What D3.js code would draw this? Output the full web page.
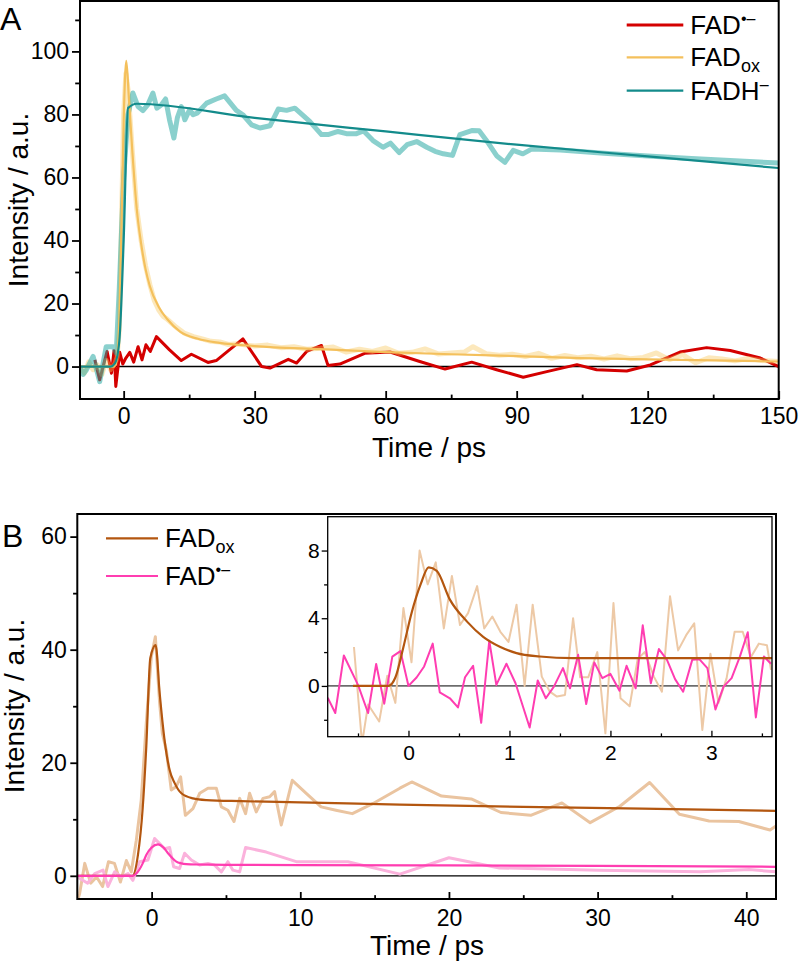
<!DOCTYPE html>
<html><head><meta charset="utf-8">
<script src="https://cdn.jsdelivr.net/npm/d3@7"></script>
<style>body{margin:0;background:#fff}svg{display:block;font-family:Arial,"Liberation Sans",sans-serif}</style>
</head><body><svg id="c" width="799" height="980"></svg>
<script>
// ---------- Panel A data [time ps, intensity] ----------
const aRadical = [[-6.6,2.1],[-5.5,-4.2],[-3.8,4.8],[-2.8,-2.1],[-2.2,5],[-1.8,-6.3],[-0.9,4.5],[-0.2,0.8],[0.5,2.7],[1.4,4.5],[2.3,1.4],[3.3,6.3],[4.2,2.1],[5.1,6.9],[6.1,4.8],[7.5,9.5],[10.5,5.3],[13.2,1.9],[15.5,3.9],[19.3,1.3],[21.2,1.9],[27.3,8.8],[31.6,0],[33.5,-0.5],[37.7,2.3],[39.6,1.1],[41.9,4.8],[45.3,6.7],[46.8,0.3],[49.5,0.8],[55.2,4.2],[61,4.6],[67.8,1.6],[73.6,-0.8],[79.7,1.4],[85.4,-1],[91.5,-3.4],[96.9,-1.6],[103.8,0.6],[108.3,-1],[115.2,-1.4],[120.6,0.5],[127.4,4.6],[133.5,6],[138.9,5.1],[145.8,2.7],[150,0]];
const aOxRaw = [[-10,0],[-9,-2],[-8,1.5],[-7,-1],[-6,0.5],[-5,-2.5],[-4,2],[-3,-1],[-2,1],[-1.5,3],[-1,12],[-0.5,45],[0,80],[0.5,93],[1,88],[1.5,78],[2,68],[3,50],[4,40],[5,32],[6,26],[7,21],[8,18],[9,16],[10,15],[12,12.5],[14,10.5],[16,9.5],[18,8.8],[20,8],[22,7.8],[24,7],[26,7.2],[28,6.8],[30,6.5],[33,6.8],[36,6],[39,6.3],[42,5.5],[45,5.8],[48,6.2],[51,4.6],[54,5.5],[57,4.8],[60,5.9],[63,4.2],[66,4.5],[69,5.6],[72,4.0],[75,4.3],[78,4.6],[80,6.3],[83,4.1],[86,3.6],[89,3.9],[92,3.2],[95,4.2],[98,2.6],[101,3.5],[104,2.8],[107,3.3],[110,2.4],[113,3.4],[116,2.5],[119,2.9],[122,4.3],[125,2.2],[128,3.8],[131,1.2],[134,2.8],[137,2.4],[140,1.8],[143,2.6],[146,1.9],[150,1.6]];
const aOxFit = [[-10,0],[-2.2,0],[-1.5,3],[-1,15],[-0.5,45],[0,78],[0.6,97],[1.2,85],[2,68],[3,50],[4,39],[5,31],[6,25.5],[8,19],[10,15],[13,11],[17,8.8],[22,7.5],[30,6.5],[45,5.5],[60,4.6],[75,3.9],[90,3.3],[105,2.7],[120,2.3],[150,1.6]];
const aHqRaw = [[-10,0],[-9.3,-2.5],[-8.5,-1],[-7,3.2],[-5.5,-4.8],[-4,6.3],[-2.4,6.3],[-1.7,4.3],[-1,25],[0,60],[1,80],[2.1,86.8],[3.3,82.5],[4.4,81.2],[5.5,83],[6.7,86.8],[7.6,82],[8.6,83],[9.6,84.9],[10.5,78.3],[11.5,72.5],[12.3,79],[13.2,82.5],[14,78.3],[15.1,81.5],[15.9,79.9],[16.8,80.4],[19,83.6],[21.2,84.9],[23.1,85.9],[25.8,81.3],[27.3,79.9],[29.3,76.7],[31.2,75.7],[33.5,76.4],[35.4,81.7],[37.3,81.3],[39.2,82],[42.6,77.8],[45.3,73.6],[46.8,73.6],[49.1,74.6],[51,73.9],[53.3,73.9],[54.9,74.8],[57.1,71.7],[59.4,69.6],[61.1,70.9],[63.1,67.9],[64.9,70.4],[67.1,71.4],[69.4,69.6],[71.3,68.3],[73.2,67.5],[75.3,67],[77,73.6],[79.7,74.9],[81.4,74.8],[83.5,70.9],[85.4,66.9],[87.3,64.8],[89.2,68.6],[91.4,67.5],[93.4,69],[100,68.7],[110,67.7],[120,66.8],[130,66],[140,65.3],[150,64.6]];
const aHqFit = [[-10,0],[-3,0],[-2,1],[-1,8],[0,40],[1,82],[3,83.4],[30,78.9],[60,74.6],[90,70.4],[120,66.7],[150,63]];
const aXTicks = [0,30,60,90,120,150];
const aYTicks = [0,20,40,60,80,100];

// ---------- Panel B data ----------
const bOxRaw = [[-5,-4.6],[-4.84,-3.1],[-4.5,2.2],[-4.1,-1.3],[-3.7,-0.2],[-3.3,-1.9],[-2.9,2.5],[-2.5,2.2],[-2.1,-1.1],[-1.7,2.7],[-1.37,0.7],[-1.03,6.3],[-0.7,13.4],[-0.36,27],[-0.02,38.8],[0.25,42.3],[0.54,30.5],[0.72,25.2],[0.99,22.2],[1.32,15.2],[1.66,15.8],[1.95,17.5],[2.27,10.7],[2.78,11.9],[3.23,14.6],[3.79,15.5],[4.35,15.5],[4.69,12.2],[5.13,11.6],[5.54,9.6],[5.92,13.7],[6.32,11],[6.59,14.6],[7.04,11.3],[7.49,13.7],[7.94,14],[8.27,14.9],[8.72,9],[9.46,16.9],[10.4,14.6],[11.4,12.2],[12.4,11.6],[13.5,11],[14.9,12.8],[16.7,15.5],[17.5,16.6],[19.5,14.1],[21.5,13.6],[23.5,11.2],[25.5,10.7],[27.6,12.9],[29.5,9.4],[31.5,12.3],[33.5,16.5],[35.5,10.9],[37.5,9.7],[39.5,9.6],[41.6,8.1],[42,8.8]];
const bOxFit = [[-5,0],[-1.3,0],[-0.92,3.7],[-0.6,12],[-0.36,22.8],[-0.09,38.5],[0.27,40.8],[0.54,32.3],[0.87,24],[1.21,18.7],[1.55,16.4],[2.0,14.6],[2.78,13.7],[3.68,13.4],[6,13.2],[10,13],[16.7,12.6],[25,12.2],[33,11.9],[42,11.5]];
const bRadRaw = [[-5,-0.2],[-4.3,-1.3],[-3.83,0.4],[-3.27,1.0],[-2.94,-1.9],[-2.49,0.7],[-2.04,-0.2],[-1.59,0.4],[-1.26,-0.8],[-0.81,2.5],[-0.25,2.8],[0.2,6.6],[0.54,5.7],[0.87,4.8],[1.21,5.0],[1.48,1.6],[1.88,1.3],[2.22,4.0],[2.67,2.8],[3.23,1.9],[3.79,2.2],[4.24,1.9],[4.69,0.7],[5.13,2.5],[5.47,1.0],[5.92,0.7],[6.32,5.0],[7.71,4.2],[9.73,2.5],[13.2,2.5],[16.7,0.3],[20.0,3.2],[23.4,1.4],[30.1,1.0],[36.9,0.7],[40.2,1.1],[42,0.7]];
const bRadFit = [[-5,0],[-1.3,0],[-1.03,0.4],[-0.6,2.2],[-0.36,3.7],[0,5.0],[0.43,5.55],[0.8,5.0],[1.1,4.0],[1.4,3.1],[1.66,2.5],[2,2.2],[2.33,2.07],[3,2.0],[5,1.95],[10,1.9],[20,1.85],[30,1.75],[42,1.6]];
const bXTicks = [0,10,20,30,40];
const bYTicks = [0,20,40,60];

// ---------- Inset data ----------
const iOxRaw = [[-0.54,2.3],[-0.46,-3.4],[-0.4,-1.1],[-0.29,-2.1],[-0.21,0.6],[-0.13,-1.0],[-0.05,4.6],[0.03,1.4],[0.11,8.0],[0.19,6.0],[0.27,7.3],[0.35,3.4],[0.43,6.5],[0.51,3.6],[0.59,4.3],[0.68,5.9],[0.75,3.4],[0.83,4.1],[0.91,3.2],[0.99,2.6],[1.07,4.8],[1.15,0],[1.23,4.8],[1.32,0.55],[1.4,-0.34],[1.47,-0.63],[1.55,-0.53],[1.63,4.0],[1.7,0.51],[1.78,0.51],[1.87,2.0],[1.95,-2.8],[2.03,4.9],[2.1,-0.73],[2.19,-1.2],[2.27,1.6],[2.34,2.0],[2.43,0.55],[2.51,-0.34],[2.59,5.3],[2.67,2.1],[2.75,3.0],[2.83,3.7],[2.91,-2.6],[2.99,1.9],[3.07,-1.0],[3.15,0.45],[3.23,3.2],[3.31,3.2],[3.39,1.7],[3.47,2.5],[3.55,2.4],[3.59,0.95]];
const iRad = [[-0.8,-0.7],[-0.725,-1.6],[-0.64,1.8],[-0.5,0.06],[-0.4,-1.6],[-0.32,1.3],[-0.24,-1.05],[-0.16,1.73],[-0.08,2.06],[0,0],[0.08,0.5],[0.155,1.15],[0.24,2.5],[0.31,-0.38],[0.41,-0.73],[0.49,-1.27],[0.56,0.51],[0.64,1.19],[0.72,-2.18],[0.8,2.67],[0.87,0.06],[0.97,1.31],[1.06,0.16],[1.2,-2.46],[1.28,0.32],[1.36,-0.73],[1.44,-0.04],[1.53,1.05],[1.6,-0.14],[1.68,1.84],[1.76,-1.07],[1.84,1.39],[1.92,0.46],[2.0,0.71],[2.09,-0.28],[2.16,1.19],[2.25,-0.14],[2.32,3.58],[2.4,0.16],[2.48,2.18],[2.56,1.54],[2.64,0.4],[2.72,-0.34],[2.81,1.54],[2.88,1.58],[2.96,1.05],[3.04,-1.39],[3.12,-0.04],[3.2,0.46],[3.28,1.7],[3.36,3.17],[3.44,-1.86],[3.52,1.74],[3.59,1.31]];
const iOxFit = [[-0.55,0],[-0.2,0],[-0.13,0.5],[-0.05,2.3],[0.03,4.3],[0.12,6.0],[0.2,7.0],[0.28,6.8],[0.41,5.1],[0.58,3.8],[0.74,2.9],[0.91,2.3],[1.07,1.94],[1.3,1.74],[1.63,1.64],[3.6,1.64]];
const iXTicks = [0,1,2,3];
const iYTicks = [0,4,8];

const svg = d3.select('#c');
const FONT = 'Arial,"Liberation Sans",sans-serif';

function panel(o){
  const x = d3.scaleLinear().domain(o.xd).range([o.l,o.r]);
  const y = d3.scaleLinear().domain(o.yd).range([o.b,o.t]);
  const g = svg.append('g');
  if(o.bg) g.append('rect').attr('x',o.l).attr('y',o.t).attr('width',o.r-o.l).attr('height',o.b-o.t).attr('fill','#fff');
  const cid = 'clip'+o.id;
  svg.append('defs').append('clipPath').attr('id',cid).append('rect')
    .attr('x',o.l).attr('y',o.t).attr('width',o.r-o.l).attr('height',o.b-o.t);
  const pg = g.append('g').attr('clip-path','url(#'+cid+')');
  pg.append('line').attr('x1',o.l).attr('x2',o.r).attr('y1',y(0)).attr('y2',y(0)).attr('stroke','#000').attr('stroke-width',o.zw);
  const line = d3.line().x(d=>x(d[0])).y(d=>y(d[1]));
  o.series.forEach(s=>{
    pg.append('path').attr('d',line.curve(s.curve||d3.curveLinear)(s.data)).attr('fill','none')
      .attr('stroke',s.color).attr('stroke-width',s.w).attr('stroke-opacity',s.op||1)
      .attr('stroke-linejoin','round');
  });
  // axes
  const fx = o.fmt || (d=>d);
  const ax = g.append('g').attr('transform','translate(0,'+o.b+')')
    .call(d3.axisBottom(x).tickValues(o.xt).tickSize(-o.tl).tickPadding(o.xpad).tickFormat(fx));
  const axm = g.append('g').attr('transform','translate(0,'+o.b+')')
    .call(d3.axisBottom(x).tickValues(o.xm).tickSize(-o.tl*0.55).tickFormat(''));
  const ay = g.append('g').attr('transform','translate('+o.l+',0)')
    .call(d3.axisLeft(y).tickValues(o.yt).tickSize(o.tl).tickPadding(o.ypad));
  const aym = g.append('g').attr('transform','translate('+o.l+',0)')
    .call(d3.axisLeft(y).tickValues(o.ym).tickSize(o.tl*0.6).tickFormat(''));
  [ax,axm,ay,aym].forEach(a=>{
    a.select('.domain').remove();
    a.selectAll('line').attr('stroke','#000').attr('stroke-width',o.tw);
    a.selectAll('text').attr('font-size',o.fs).attr('font-family',FONT).attr('fill','#000');
  });
  g.append('rect').attr('x',o.l).attr('y',o.t).attr('width',o.r-o.l).attr('height',o.b-o.t)
    .attr('fill','none').attr('stroke','#000').attr('stroke-width',o.fw);
  return {x,y,g};
}

// Panel A
panel({id:'A',l:80,r:778.7,t:1,b:399,xd:[-10,150],yd:[-10.3,116],
  xt:aXTicks,xm:[15,45,75,105,135],yt:aYTicks,ym:[10,30,50,70,90,110],
  tl:8,xpad:9,ypad:3,fs:23,tw:1.8,fw:2,zw:1.6,
  series:[
    {data:aRadical,color:'#D40000',w:3},
    {data:aOxRaw,color:'#F7C658',w:5,op:0.4},
    {data:aHqRaw,color:'#1FA5A0',w:5,op:0.52},
    {data:aOxFit,color:'#F4C05C',w:2.2,curve:d3.curveMonotoneX},
    {data:aHqFit,color:'#138B8B',w:2.2,curve:d3.curveMonotoneX}
  ]});

// Panel B
panel({id:'B',l:77.3,r:776,t:514,b:899,xd:[-5,42],yd:[-4.1,64],
  xt:bXTicks,xm:[5,15,25,35],yt:bYTicks,ym:[10,30,50],
  tl:7,xpad:11,ypad:3.5,fs:23,tw:1.8,fw:2,zw:1.3,
  series:[
    {data:bOxRaw,color:'#EAC4A0',w:3},
    {data:bRadRaw,color:'#FBB2DC',w:3},
    {data:bOxFit,color:'#B3560F',w:2.2,curve:d3.curveMonotoneX},
    {data:bRadFit,color:'#FF3DB1',w:2.2,curve:d3.curveMonotoneX}
  ]});

// Inset
panel({id:'I',l:327.7,r:772,t:516.7,b:736.7,xd:[-0.8,3.6],yd:[-3,10],bg:true,
  xt:iXTicks,xm:[-0.5,0.5,1.5,2.5,3.5],yt:iYTicks,ym:[-2,2,6],
  tl:6,xpad:8,ypad:2,fs:21,tw:1.3,fw:1.3,zw:1,
  series:[
    {data:iOxRaw,color:'#EDC9A6',w:2},
    {data:iRad,color:'#FF3DB1',w:2},
    {data:iOxFit,color:'#B3560F',w:2.2,curve:d3.curveMonotoneX}
  ]});

// Titles
function txt(x,y,s,fs,rot,anchor){
  const t = svg.append('text').attr('x',x).attr('y',y).attr('font-size',fs).attr('font-family',FONT)
    .attr('text-anchor',anchor||'middle').attr('fill','#000').text(s);
  if(rot) t.attr('transform','rotate(-90,'+x+','+y+')');
  return t;
}
txt(429,457,'Time / ps',28);
txt(427,955,'Time / ps',28);
txt(28,200,'Intensity / a.u.',28,true);
txt(24,706,'Intensity / a.u.',28,true);
txt(0,30,'A',32,false,'start');
txt(2,547,'B',32,false,'start');

// Legends
function legend(x1,x2,y,color,w,base,sup,sub){
  svg.append('line').attr('x1',x1).attr('x2',x2).attr('y1',y).attr('y2',y).attr('stroke',color).attr('stroke-width',w);
  const t = svg.append('text').attr('x',x2+7).attr('y',y+9).attr('font-size',26).attr('font-family',FONT).attr('fill','#000');
  t.append('tspan').text(base);
  if(sup) t.append('tspan').attr('font-size',16).attr('dy',-10).text(sup);
  if(sub) t.append('tspan').attr('font-size',18).attr('dy',6).text(sub);
}
legend(626.7,683.3,25,'#D40000',3,'FAD','\u2022\u2013');
legend(626.7,683.3,57.3,'#F4C05C',2.2,'FAD',null,'ox');
legend(626.7,683.3,90.7,'#138B8B',2.2,'FADH','\u2013');
legend(106,158,538.3,'#B3560F',2.2,'FAD',null,'ox');
legend(106,158,576,'#FF3DB1',2.2,'FAD','\u2022\u2013');
</script></body></html>
